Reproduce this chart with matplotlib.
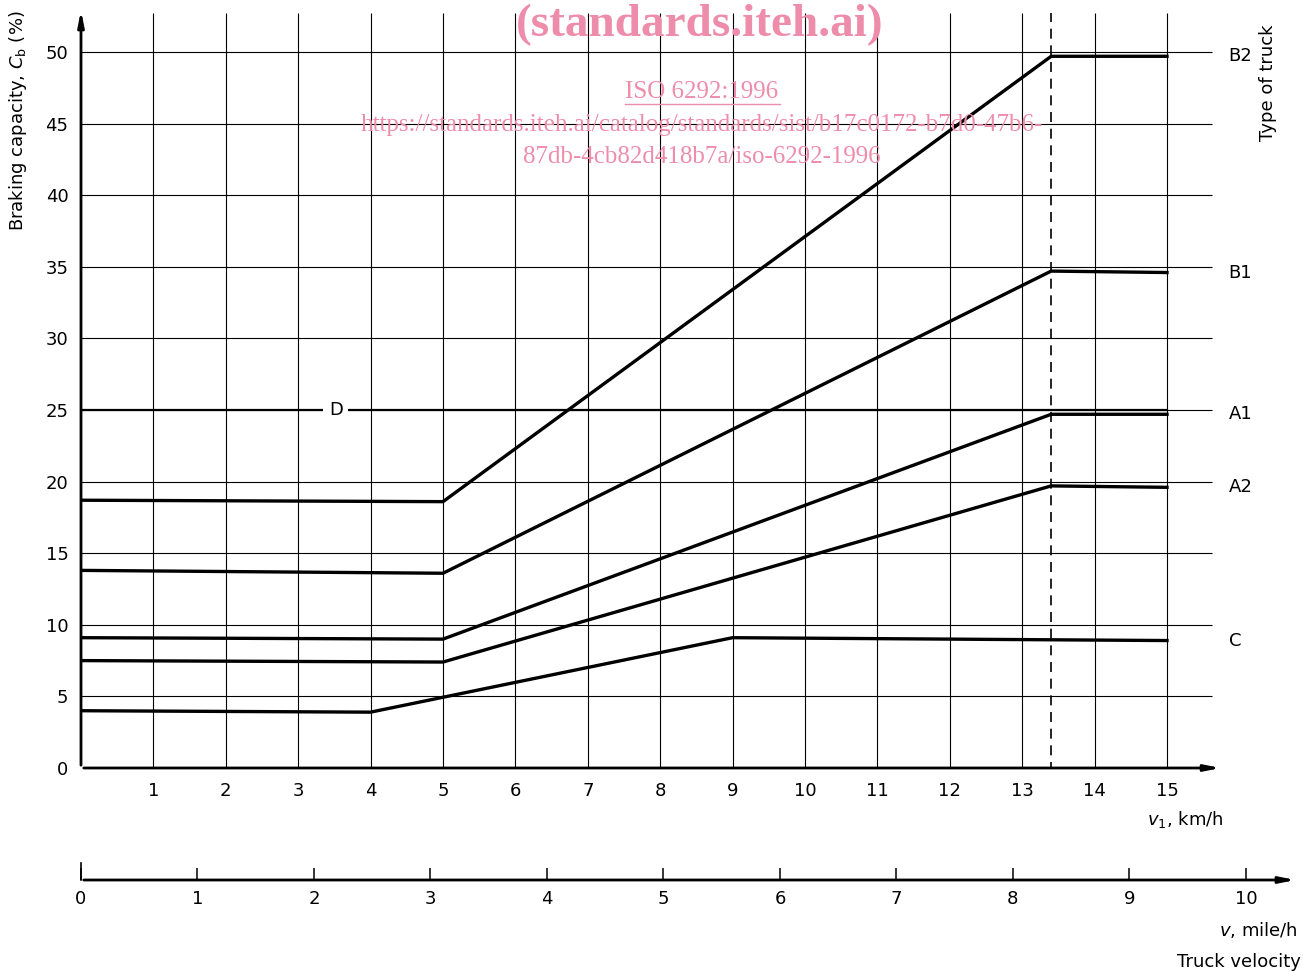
import matplotlib
matplotlib.use("Agg")
import matplotlib.pyplot as plt
from matplotlib.lines import Line2D

# braking capacity curves, v1 in km/h, Cb in %
x_b2 = [0, 5, 13.4, 15]
y_b2 = [18.7, 18.6, 49.7, 49.7]
x_b1 = [0, 5, 13.4, 15]
y_b1 = [13.8, 13.6, 34.7, 34.6]
x_a1 = [0, 5, 13.4, 15]
y_a1 = [9.1, 9.0, 24.7, 24.7]
x_a2 = [0, 5, 13.4, 15]
y_a2 = [7.5, 7.4, 19.7, 19.6]
x_c = [0, 4, 9, 15]
y_c = [4.0, 3.9, 9.1, 8.9]
x_d = [0, 15]
y_d = [25, 25]
d_label_x = 3.52

v_limit = 13.4
km_ticks = list(range(1, 16))
cb_ticks = list(range(0, 51, 5))
mph_ticks = list(range(0, 11))
truck_types = ["B2", "B1", "A1", "A2", "C"]

W, H = 1310, 972
fig = plt.figure(figsize=(W / 100, H / 100), dpi=100)
plt.rcParams['font.family'] = ['DejaVu Sans']

px_km = 72.4
px_cb = 14.32
x0, y0 = 81, 768
xmax, ymax = 16.0, 53.4
ax = fig.add_axes([x0 / W, (H - y0) / H, xmax * px_km / W, ymax * px_cb / H])
ax.set_xlim(0, xmax)
ax.set_ylim(0, ymax)
for s in ax.spines.values():
    s.set_visible(False)

# grid
ax.vlines(km_ticks, 0, 52.7, color="black", lw=0.8)
ax.hlines(cb_ticks[1:], 0, 15.62, color="black", lw=0.8)
ax.vlines(v_limit, -0.3, 52.7, color="black", lw=1.2, linestyles=(0, (6, 4)))

# axes with arrows
ax.annotate("", xy=(15.78, 0), xytext=(0, 0),
            arrowprops=dict(arrowstyle="-|>,head_length=0.9,head_width=0.18", color="black", lw=2),
            annotation_clip=False)
ax.annotate("", xy=(0, 53.1), xytext=(0, 0),
            arrowprops=dict(arrowstyle="-|>,head_length=0.9,head_width=0.18", color="black", lw=2),
            annotation_clip=False)

# curves
ax.plot(x_d, y_d, color="black", lw=1.6)
ax.text(d_label_x, 25, "D", ha="center", va="center", fontsize=13,
        bbox=dict(facecolor="white", edgecolor="none", pad=4))
curves = [(x_b2, y_b2), (x_b1, y_b1), (x_a1, y_a1), (x_a2, y_a2), (x_c, y_c)]
for (xs, ys), name in zip(curves, truck_types):
    ax.plot(xs, ys, color="black", lw=2.4, solid_joinstyle="miter")
    ax.text(15.85, ys[-1], name, ha="left", va="center", fontsize=13)

ax.set_xticks(km_ticks)
ax.set_yticks(cb_ticks)
ax.tick_params(axis="both", length=0, labelsize=13)
ax.tick_params(axis="x", pad=10)
ax.tick_params(axis="y", pad=9)

ax.text(15.78, -3.6, "$v_{1}$, km/h", ha="right", va="center", fontsize=13)
fig.text(18 / W, 1 - 121 / H, r"Braking capacity, $C_\mathrm{b}$ (%)", rotation=90,
         ha="center", va="center", fontsize=13)
fig.text(1268 / W, 1 - 83 / H, "Type of truck", rotation=90,
         ha="center", va="center", fontsize=13)

# second scale in mile/h
px_mph = px_km * 1.609
ly = 880
ax2 = fig.add_axes([x0 / W, (H - ly) / H, 10.5 * px_mph / W, 20 / H])
ax2.set_xlim(0, 10.5)
ax2.set_ylim(0, 1)
for s in ax2.spines.values():
    s.set_visible(False)
ax2.patch.set_visible(False)
ax2.annotate("", xy=(10.45, 0), xytext=(0, 0),
             arrowprops=dict(arrowstyle="-|>,head_length=0.9,head_width=0.18", color="black", lw=2),
             annotation_clip=False)
ax2.plot([0, 0], [0, 0.85], color="black", lw=1.2, clip_on=False)
ax2.set_xticks(mph_ticks)
ax2.set_yticks([])
ax2.tick_params(axis="x", direction="in", length=8.5, width=1.1, labelsize=13, pad=7)
fig.text(1298 / W, 1 - 930 / H, "$v$, mile/h", ha="right", va="center", fontsize=13)
fig.text(1301 / W, 1 - 962 / H, "Truck velocity", ha="right", va="center", fontsize=13)

# watermark
pink = "#EE8DAB"
fig.text(700 / W, 1 - 36 / H, "(standards.iteh.ai)", ha="center", va="baseline",
         fontsize=34, fontweight="bold", family="Liberation Serif", color=pink)
fig.text(702 / W, 1 - 92 / H, "ISO 6292:1996", ha="center", va="center",
         fontsize=18, family="Liberation Serif", color=pink)
fig.add_artist(Line2D([625 / W, 780 / W], [1 - 104 / H, 1 - 104 / H], color=pink, lw=1))
fig.text(702 / W, 1 - 125 / H,
         "https://standards.iteh.ai/catalog/standards/sist/b17c0172-b7d0-47b6-",
         ha="center", va="center", fontsize=18, family="Liberation Serif", color=pink)
fig.text(702 / W, 1 - 157 / H, "87db-4cb82d418b7a/iso-6292-1996",
         ha="center", va="center", fontsize=18, family="Liberation Serif", color=pink)

fig.savefig("out.png", dpi=100)
